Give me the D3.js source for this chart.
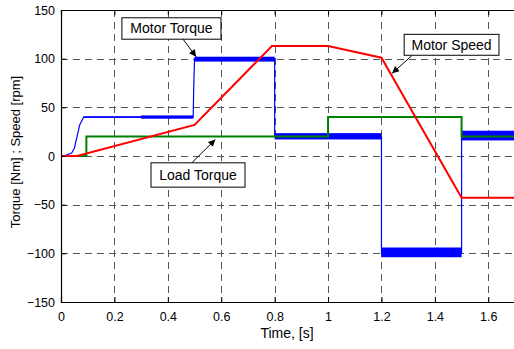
<!DOCTYPE html>
<html>
<head>
<meta charset="utf-8">
<script src="https://cdn.jsdelivr.net/npm/d3@7"></script>
<style>
  body { margin: 0; background: #fff; }
  svg { display: block; font-family: "Liberation Sans", Arial, sans-serif; }
</style>
</head>
<body>
<svg id="canvas" width="514" height="349"></svg>
<script>
// time ticks / value ticks
const timeTicks = [0, 0.2, 0.4, 0.6, 0.8, 1, 1.2, 1.4, 1.6];
const valueTicks = [-150, -100, -50, 0, 50, 100, 150];

// motor torque (blue) - mean trace
const torqueTime = [0, 0.02, 0.04, 0.05, 0.06, 0.07, 0.085, 0.495, 0.497, 0.5, 0.8, 0.8, 1.2, 1.2, 1.5, 1.5, 1.7];
const torqueValue = [0, 1, 3, 8, 20, 32, 40, 40, 70, 100, 100, 20, 20, -100, -100, 20, 20];

// ripple band on the motor torque: [from, to, low, high]
const rippleFrom = [0.085, 0.3, 0.5, 0.8, 1.2, 1.5];
const rippleTo = [0.3, 0.495, 0.8, 1.2, 1.5, 1.7];
const rippleLow = [39.2, 38.3, 97, 17, -104, 16];
const rippleHigh = [40.8, 41.7, 102, 23.5, -94, 26];

// load torque (green)
const loadTime = [0, 0.095, 0.095, 1.0, 1.0, 1.5, 1.5, 1.7];
const loadValue = [0, 0, 20, 20, 40, 40, 20, 20];

// motor speed (red)
const speedTime = [0, 0.06, 0.5, 0.79, 1.0, 1.2, 1.5, 1.7];
const speedValue = [0, 0, 32, 113, 113, 101, -43, -43];

// annotations: box corners and arrow in data units
const notes = [
  { text: "Motor Torque", t0: 0.228, t1: 0.599, v0: 120, v1: 142, from: [0.457, 120], to: [0.506, 102] },
  { text: "Motor Speed", t0: 1.285, t1: 1.64, v0: 103.5, v1: 125, from: [1.315, 103.5], to: [1.24, 85] },
  { text: "Load Torque", t0: 0.337, t1: 0.689, v0: -32, v1: -7, from: [0.49, -7], to: [0.578, 17] }
];

let canvas = d3.select("#canvas");

let x = d3.scaleLinear().domain([0, 1.7]).range([61, 515]);
let y = d3.scaleLinear().domain([-150, 150]).range([302, 10]);

// grid
let grid = canvas.append("g").attr("stroke", "#555").attr("stroke-width", 1).attr("stroke-dasharray", "7,5");
grid.selectAll(".gx")
  .data(timeTicks.filter(d => d > 0))
  .enter()
  .append("line")
  .attr("x1", d => Math.round(x(d)) + 0.5).attr("x2", d => Math.round(x(d)) + 0.5)
  .attr("y1", y(150)).attr("y2", y(-150));
grid.selectAll(".gy")
  .data(valueTicks.filter(d => d > -150 && d < 150))
  .enter()
  .append("line")
  .attr("x1", x(0)).attr("x2", x(1.7))
  .attr("y1", d => Math.round(y(d)) + 0.5).attr("y2", d => Math.round(y(d)) + 0.5);

// blue ripple band
canvas.append("g").selectAll("rect")
  .data(rippleFrom)
  .enter()
  .append("rect")
  .attr("x", (d) => x(d))
  .attr("width", (d, i) => x(rippleTo[i]) - x(d))
  .attr("y", (d, i) => y(rippleHigh[i]))
  .attr("height", (d, i) => y(rippleLow[i]) - y(rippleHigh[i]))
  .attr("fill", "#0000ff");

let line = d3.line().x(d => x(d[0])).y(d => y(d[1]));

canvas.append("path")
  .attr("d", line(torqueTime.map((t, i) => [t, torqueValue[i]])))
  .attr("fill", "none").attr("stroke", "#0000ff").attr("stroke-width", 1.2);

canvas.append("path")
  .attr("d", line(loadTime.map((t, i) => [t, loadValue[i]])))
  .attr("fill", "none").attr("stroke", "#008000").attr("stroke-width", 2);

canvas.append("path")
  .attr("d", line(speedTime.map((t, i) => [t, speedValue[i]])))
  .attr("fill", "none").attr("stroke", "#ff0000").attr("stroke-width", 2);

// axes (matlab style: ticks inside, box)
let xAxis = d3.axisBottom(x).tickValues(timeTicks).tickSize(-5).tickPadding(10).tickFormat(d3.format("~g"));
let yAxis = d3.axisLeft(y).tickValues(valueTicks).tickSize(-5).tickPadding(6);
let xTop = d3.axisTop(x).tickValues(timeTicks).tickSize(-5).tickFormat("");

let gx = canvas.append("g").attr("transform", "translate(0,302)").call(xAxis);
let gy = canvas.append("g").attr("transform", "translate(61,0)").call(yAxis);
let gt = canvas.append("g").attr("transform", "translate(0,10)").call(xTop);
[gx, gy, gt].forEach(g => {
  g.select(".domain").attr("stroke", "#000").attr("stroke-width", 1.2);
  g.selectAll(".tick line").attr("stroke", "#000");
  g.selectAll("text").attr("font-size", "12.5px").attr("fill", "#000")
    .attr("font-family", "Liberation Sans, Arial, sans-serif");
});

// axis labels
canvas.append("text")
  .text("Time, [s]")
  .attr("x", 287).attr("y", 338)
  .attr("text-anchor", "middle")
  .attr("font-size", "14px");

canvas.append("text")
  .text("Torque [Nm] ; Speed [rpm]")
  .attr("transform", "translate(20,152) rotate(-90)")
  .attr("text-anchor", "middle")
  .attr("font-size", "13px");

// annotations
canvas.append("defs").append("marker")
  .attr("id", "arrow")
  .attr("viewBox", "0 0 10 10")
  .attr("refX", 10).attr("refY", 5)
  .attr("markerWidth", 9).attr("markerHeight", 7)
  .attr("markerUnits", "userSpaceOnUse")
  .attr("orient", "auto")
  .append("path").attr("d", "M0,0 L10,5 L0,10 z").attr("fill", "#000");

let note = canvas.append("g").selectAll("g")
  .data(notes)
  .enter()
  .append("g");

note.append("line")
  .attr("x1", d => x(d.from[0])).attr("y1", d => y(d.from[1]))
  .attr("x2", d => x(d.to[0])).attr("y2", d => y(d.to[1]))
  .attr("stroke", "#000").attr("stroke-width", 1)
  .attr("marker-end", "url(#arrow)");

note.append("rect")
  .attr("x", d => x(d.t0)).attr("y", d => y(d.v1))
  .attr("width", d => x(d.t1) - x(d.t0))
  .attr("height", d => y(d.v0) - y(d.v1))
  .attr("fill", "#fff").attr("stroke", "#000").attr("stroke-width", 1);

note.append("text")
  .text(d => d.text)
  .attr("x", d => (x(d.t0) + x(d.t1)) / 2)
  .attr("y", d => (y(d.v0) + y(d.v1)) / 2 + 5)
  .attr("text-anchor", "middle")
  .attr("font-size", "14px");
</script>
</body>
</html>
